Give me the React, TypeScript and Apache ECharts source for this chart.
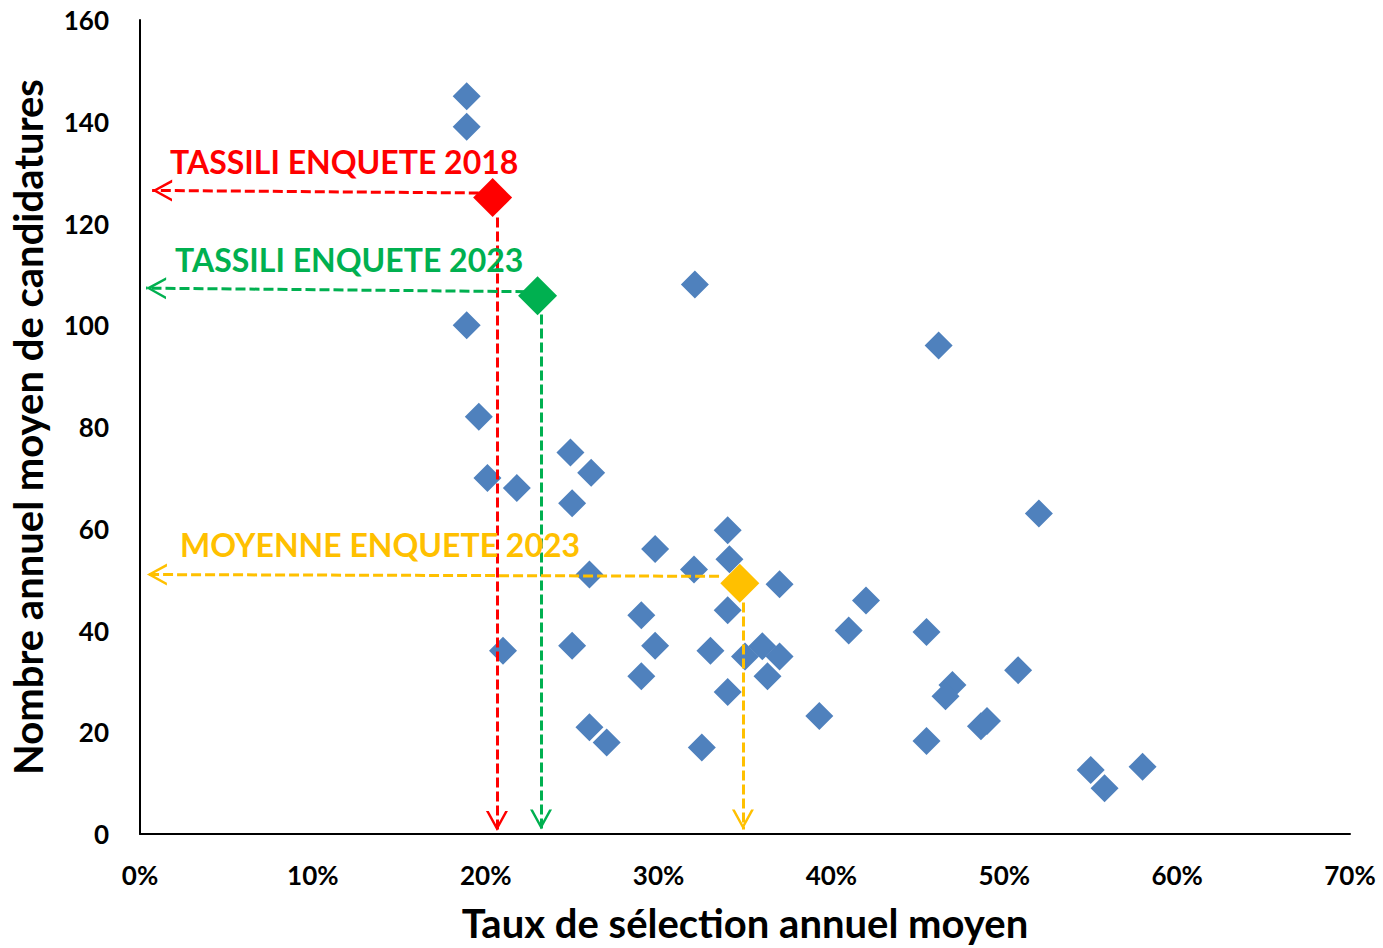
import React, { useEffect, useRef } from "react";
import * as echarts from "echarts";

// ---- data (x: taux de sélection %, y: nombre de candidatures) ----
const otherPoints: [number, number][] = [
  [18.9, 145], [18.9, 139], [18.9, 100], [19.6, 82], [20.1, 70], [21.8, 68],
  [21.0, 36], [24.9, 75], [26.1, 71], [25.0, 65], [26.0, 51], [25.0, 37],
  [26.0, 21], [27.0, 18], [29.8, 56], [29.0, 43], [29.8, 37], [29.0, 31],
  [32.1, 108], [32.05, 52], [33.0, 36], [32.5, 17], [34.0, 59.7], [34.1, 54],
  [34.0, 44], [34.0, 27.9], [35.0, 34.9], [36.0, 36.9], [36.3, 31], [37.0, 34.9],
  [37.0, 49.1], [39.3, 23.2], [41.0, 40], [42.0, 45.9], [46.2, 96], [45.5, 39.7],
  [45.5, 18.3], [47.0, 29.3], [46.6, 27.1], [48.65, 21.2], [49.0, 22.2], [50.8, 32.2],
  [52.0, 63], [55.0, 12.6], [55.8, 9.0], [58.0, 13.2],
];
const tassili2018: [number, number] = [20.4, 125.1];
const tassili2023: [number, number] = [23.0, 105.8];
const moyenne2023: [number, number] = [34.7, 49.3];

// guide arrows (data units): [from, to]
const redGuides: [number, number][][] = [
  [[19.6, 126.0], [0.7, 126.5]],
  [[20.65, 121.2], [20.65, 0.6]],
];
const greenGuides: [number, number][][] = [
  [[22.3, 106.6], [0.35, 107.3]],
  [[23.2, 102.1], [23.2, 0.9]],
];
const yellowGuides: [number, number][][] = [
  [[33.5, 50.65], [0.4, 51.0]],
  [[34.88, 45.5], [34.88, 0.9]],
];

const xTicks = [0, 10, 20, 30, 40, 50, 60, 70];
const yTicks = [0, 20, 40, 60, 80, 100, 120, 140, 160];

const labels = [
  { text: "TASSILI ENQUETE 2018", color: "#FF0000" },
  { text: "TASSILI ENQUETE 2023", color: "#00B050" },
  { text: "MOYENNE ENQUETE 2023", color: "#FFC000" },
];

const FONT = "Lato";
const CHEVRON =
  "path://M11,-20 L11.01,-20 L11,-19.99 Z M11,0 L22,20 L19.2,20 L11,5 L2.8,20 L0,20 Z";

function guideSeries(guides: [number, number][][], color: string) {
  return {
    type: "lines",
    coordinateSystem: "cartesian2d",
    z: 3,
    silent: true,
    symbol: ["none", CHEVRON],
    symbolSize: [1, [22, 40]],
    lineStyle: { color, width: 3, type: [10, 4], opacity: 1 },
    data: guides.map((g) => ({ coords: g })),
  };
}

export default function App() {
  const ref = useRef<HTMLDivElement>(null);
  useEffect(() => {
    if (!ref.current) return;
    const chart = echarts.init(ref.current, null, { renderer: "svg" });
    chart.setOption({
      animation: false,
      backgroundColor: "#ffffff",
      grid: { left: 140, top: 20, width: 1210, height: 815, containLabel: false },
      xAxis: {
        type: "value",
        min: xTicks[0],
        max: xTicks[xTicks.length - 1],
        interval: 10,
        name: "Taux de sélection annuel moyen",
        nameLocation: "middle",
        nameGap: 69,
        nameTextStyle: { fontFamily: FONT, fontWeight: "bold", fontSize: 40, color: "#000" },
        axisLine: { show: true, lineStyle: { color: "#000", width: 2 } },
        axisTick: { show: false },
        splitLine: { show: false },
        axisLabel: {
          formatter: "{value}%",
          margin: 28,
          fontFamily: FONT,
          fontWeight: "bold",
          fontSize: 26,
          color: "#000",
        },
      },
      yAxis: {
        type: "value",
        min: yTicks[0],
        max: yTicks[yTicks.length - 1],
        interval: 20,
        name: "Nombre annuel moyen de candidatures",
        nameLocation: "middle",
        nameGap: 92,
        nameTextStyle: { fontFamily: FONT, fontWeight: "bold", fontSize: 40, color: "#000" },
        axisLine: { show: true, lineStyle: { color: "#000", width: 2 } },
        axisTick: { show: false },
        splitLine: { show: false },
        axisLabel: {
          margin: 31,
          fontFamily: FONT,
          fontWeight: "bold",
          fontSize: 26,
          color: "#000",
        },
      },
      series: [
        {
          type: "scatter",
          z: 2,
          symbol: "diamond",
          symbolSize: 28,
          itemStyle: { color: "#4F81BD", opacity: 1 },
          data: otherPoints,
        },
        guideSeries(redGuides, "#FF0000"),
        guideSeries(greenGuides, "#00B050"),
        guideSeries(yellowGuides, "#FFC000"),
        {
          type: "scatter",
          z: 4,
          symbol: "diamond",
          symbolSize: 39,
          itemStyle: { opacity: 1 },
          data: [
            { value: tassili2018, itemStyle: { color: "#FF0000", opacity: 1 } },
            { value: tassili2023, itemStyle: { color: "#00B050", opacity: 1 } },
            { value: moyenne2023, itemStyle: { color: "#FFC000", opacity: 1 } },
          ],
        },
      ],
      graphic: [
        { left: 170, top: 161.5 },
        { left: 175, top: 259.5 },
        { left: 180, top: 544.5 },
      ].map((p, i) => ({
        type: "text",
        x: p.left,
        y: p.top,
        z: 10,
        style: {
          text: labels[i].text,
          fill: labels[i].color,
          font: `bold 32px ${FONT}`,
          textAlign: "left",
          textVerticalAlign: "middle",
        },
      })),
    });
    return () => chart.dispose();
  }, []);
  return (
    <div
      ref={ref}
      style={{ position: "fixed", left: 0, top: 0, width: 1383, height: 948 }}
    />
  );
}
